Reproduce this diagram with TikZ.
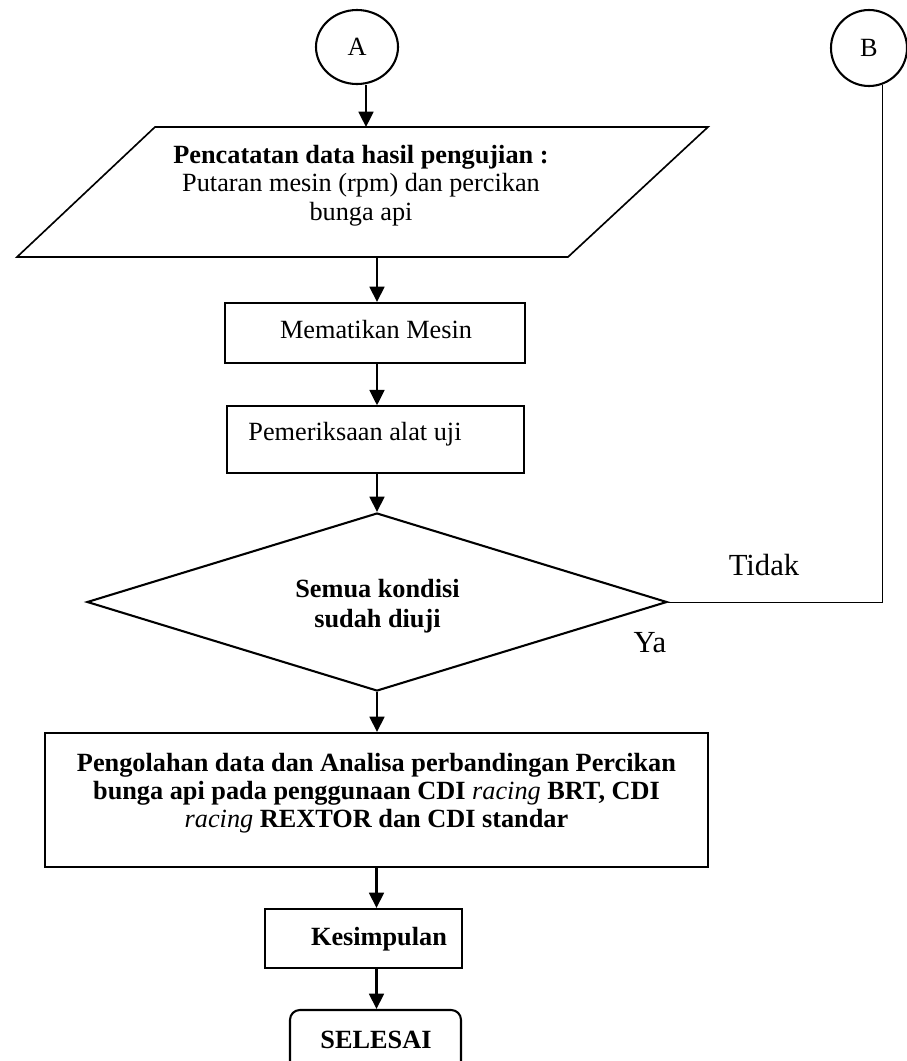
\documentclass[tikz,border=0pt]{standalone}
\usepackage{fontspec}
\setmainfont{Liberation Serif}
\usetikzlibrary{shapes.geometric,arrows.meta}
\def\pxs{0.4566pt}
\begin{document}
\begin{tikzpicture}[x=0.4566pt,y=-0.4566pt,
  arr/.style={-{Triangle[length=7pt,width=6.8pt]}, line width=0.95pt},
  box/.style={draw, rectangle, line width=0.95pt, inner sep=0pt},
  ell/.style={draw, ellipse, line width=0.95pt, inner sep=0pt, font=\fontsize{12}{13}\selectfont},
  lbl/.style={inner sep=0pt, align=center, font=\fontsize{12}{13}\selectfont},
  blbl/.style={inner sep=0pt, align=center, font=\bfseries\fontsize{12}{13}\selectfont},
  side/.style={inner sep=0pt, font=\fontsize{14}{16}\selectfont}]
\useasboundingbox (0,0) rectangle (907,1061);

% connector circles
\node[ell, minimum width=82*\pxs, minimum height=74*\pxs] (A) at (357,47) {A};
\node[ell, minimum width=76*\pxs, minimum height=76*\pxs] (B) at (869,48) {B};

% data recording (input/output parallelogram)
\coordinate (pTL) at (155,127);
\coordinate (pTR) at (708,127);
\coordinate (pBR) at (568,257);
\coordinate (pBL) at (17,257);
\draw[line width=0.75pt] (pTL) -- (pTR) -- (pBR) -- (pBL) -- cycle;
% anchor=base sits on the last line of a multi-line node
\node[lbl, font=\fontsize{12}{12.9}\selectfont, anchor=base] (data) at (361,220)
  {\textbf{Pencatatan data hasil pengujian :}\\Putaran mesin (rpm) dan percikan\\bunga api};
\coordinate (dataIn) at (366,127);
\coordinate (dataOut) at (377,257);

% process steps
\node[box, minimum width=300*\pxs, minimum height=60*\pxs] (mem) at (375,333) {};
\node[lbl, anchor=base] (memt) at (376,338) {Mematikan Mesin};

\node[box, line width=0.65pt, minimum width=297*\pxs, minimum height=67*\pxs] (cek) at (375.5,439.5) {};
\node[lbl, anchor=base west] (cekt) at (248,440) {Pemeriksaan alat uji};

% decision
\node[draw, diamond, line width=0.95pt, inner sep=0pt,
      minimum width=580*\pxs, minimum height=178*\pxs] (dia) at (377,602) {};
\node[blbl, font=\bfseries\fontsize{12}{13.7}\selectfont, anchor=base] (diat) at (377.5,627)
  {Semua kondisi\\sudah diuji};
\node[side, anchor=base] (tidak) at (764,575) {Tidak};
\node[side, anchor=base] (ya) at (650,652) {Ya};

% analysis
\node[box, minimum width=663*\pxs, minimum height=134*\pxs] (olah) at (376.5,800) {};
\node[blbl, font=\bfseries\fontsize{12}{12.6}\selectfont, anchor=base] (olaht) at (376.5,827)
  {Pengolahan data dan Analisa perbandingan Percikan\\
   bunga api pada penggunaan CDI {\mdseries\itshape racing} BRT, CDI\\
   {\mdseries\itshape racing} REXTOR dan CDI standar};

\node[box, minimum width=197*\pxs, minimum height=59*\pxs] (kes) at (363.5,938.5) {};
\node[blbl, anchor=base] (kest) at (379,945) {Kesimpulan};

% terminator
\node[box, rounded corners=4.5pt, minimum width=171*\pxs, minimum height=90*\pxs] (sel) at (375.5,1055) {};
\node[blbl, anchor=base] (selt) at (376,1048) {SELESAI};

% connectors
\draw[arr] (dataIn |- A.south) -- (dataIn);
\draw[arr] (dataOut) -- (dataOut |- mem.north);
\draw[arr] (dataOut |- mem.south) -- (dataOut |- cek.north);
\draw[arr] (dataOut |- cek.south) -- (dia.north);
\draw[arr] (dia.south) -- (dia.south |- olah.north);
\draw[arr] (olah.south) -- (olah.south |- kes.north);
\draw[arr] (olah.south |- kes.south) -- (olah.south |- sel.north);
\draw[line width=0.45pt] (dia.east) -- (dia.east -| B.-70) -- (B.-70);
\end{tikzpicture}
\end{document}
